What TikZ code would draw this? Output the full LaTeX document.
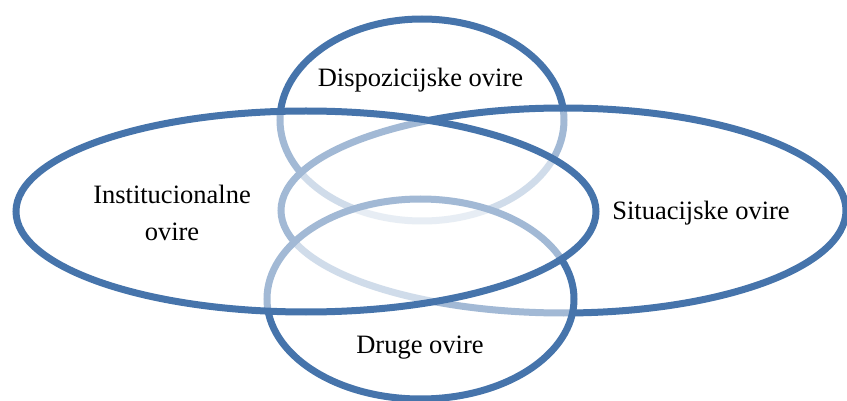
\documentclass[tikz,border=0pt]{standalone}
\usepackage{fontspec}
\setmainfont{Liberation Serif}
\usetikzlibrary{shapes.geometric}
\definecolor{oviraBlue}{RGB}{70,116,171}

\begin{document}
\begin{tikzpicture}[
	ovira/.style={
		shape=ellipse,
		draw=oviraBlue,
		line width=7pt,
		fill=white,
		fill opacity=0.5,
		inner sep=0pt,
	},
	naziv/.style={
		font=\fontsize{26.5}{37}\selectfont,
		align=center,
		inner sep=0pt,
	},
	x=1pt,
	y=-1pt,
]
\useasboundingbox (0,0) rectangle (847,401);

% order matters: later rings fade the ones below
\node (dispozicijske) [ovira, minimum width=284pt, minimum height=202pt] at (422,120) {};
\node (situacijske) [ovira, minimum width=565pt, minimum height=205pt] at (563.5,210.5) {};
\node (druge) [ovira, minimum width=307pt, minimum height=200pt] at (420.5,299) {};
\node (institucionalne) [ovira, minimum width=580pt, minimum height=201pt] at (306,211.5) {};

\node (dispozicijske tekst) [naziv, anchor=base] at (420.5,87) {Dispozicijske ovire};
\node (situacijske tekst) [naziv, anchor=base] at (701,220) {Situacijske ovire};
\node (druge tekst) [naziv, anchor=base] at (420,353) {Druge ovire};
\node (institucionalne tekst) [naziv] at (172,212.5) {Institucionalne\\ovire};
\end{tikzpicture}
\end{document}
